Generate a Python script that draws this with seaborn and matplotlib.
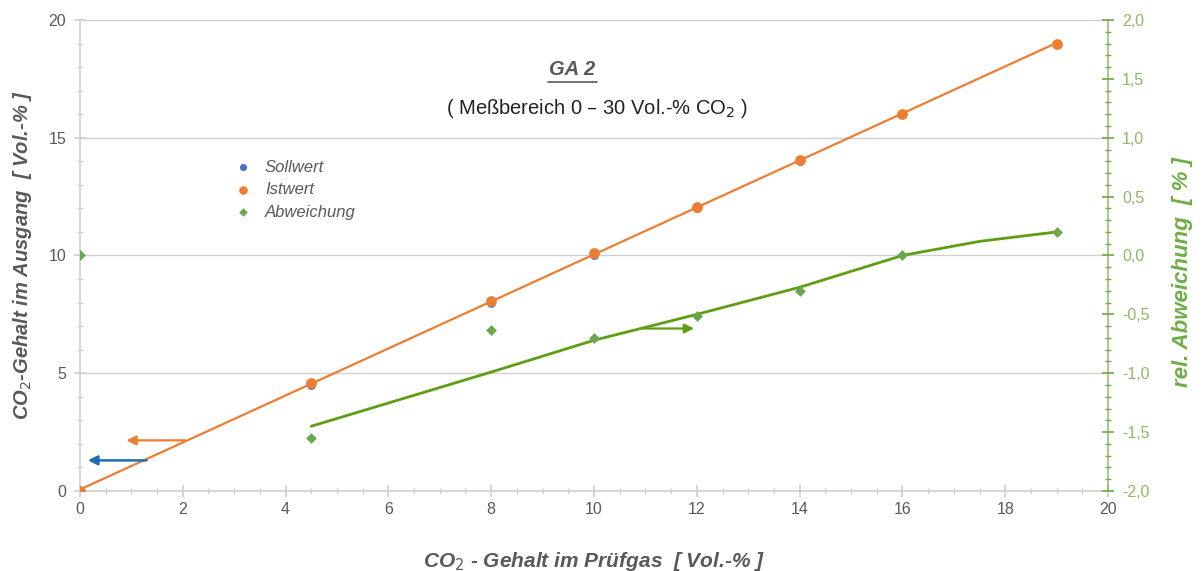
import numpy as np
import pandas as pd
import matplotlib
matplotlib.use("Agg")
import matplotlib.pyplot as plt
from matplotlib.ticker import MultipleLocator, FuncFormatter
import seaborn as sns

# Measured data: reference gas concentration vs. analyser reading
sollwert = [0, 4.5, 8, 10, 12, 14, 16, 19]
istwert = [0, 4.6, 8.05, 10.1, 12.05, 14.05, 16.0, 19.0]
abweichung = [0.0, -1.55, -0.63, -0.70, -0.51, -0.30, 0.0, 0.2]

# Smoothed deviation trend over the measured range
trend_x = [4.5, 8, 10, 12, 14, 16, 17.5, 19]
trend_abw = [-1.45, -0.99, -0.72, -0.50, -0.27, 0.0, 0.12, 0.2]

x_ticks = [0, 2, 4, 6, 8, 10, 12, 14, 16, 18, 20]
y_ticks = [0, 5, 10, 15, 20]
y2_ticks = [-2.0, -1.5, -1.0, -0.5, 0.0, 0.5, 1.0, 1.5, 2.0]

BLUE = "#4472C4"
ORANGE = "#ED7D31"
GREEN = "#70AD47"
GREEN_LINE = "#5E9E12"
GREY = "#595959"
AXIS_GREY = "#D0D0D0"

df = pd.DataFrame({"soll": sollwert, "ist": istwert, "abw": abweichung})
trend = pd.DataFrame({"x": trend_x, "abw": trend_abw})

sns.set_theme(style="white")
plt.rcParams["font.family"] = ["Liberation Sans", "DejaVu Sans"]

fig = plt.figure(figsize=(12.04, 5.71), dpi=100)
ax = fig.add_axes([0.0664, 0.1401, 0.8539, 0.8249])
ax2 = ax.twinx()

# Left axis: set point and actual value with linear trend
sns.regplot(data=df, x="soll", y="ist", order=1, ci=None, scatter=False,
            ax=ax, line_kws=dict(color=ORANGE, lw=1.6, zorder=3))
sns.scatterplot(data=df, x="soll", y="soll", ax=ax, color=BLUE, s=40,
                linewidth=0, zorder=4, label="Sollwert", legend=False)
sns.scatterplot(data=df, x="soll", y="ist", ax=ax, color=ORANGE, s=60,
                linewidth=0, zorder=5, label="Istwert", legend=False)

# Right axis: relative deviation with its trend line
sns.lineplot(data=trend, x="x", y="abw", ax=ax2, color=GREEN_LINE, lw=2.0,
             zorder=3, legend=False)
ax2.lines[0].set_solid_joinstyle("round")
sns.scatterplot(data=df, x="soll", y="abw", ax=ax2, color="#6AA84F", marker="D", s=30,
                linewidth=0, zorder=5, label="Abweichung", legend=False)

ax.set_xlim(0, 20)
ax.set_ylim(0, 20)
ax2.set_ylim(-2.0, 2.0)

ax.set_xticks(x_ticks)
ax.set_yticks(y_ticks)
ax2.set_yticks(y2_ticks)
ax.xaxis.set_minor_locator(MultipleLocator(0.5))
ax.yaxis.set_minor_locator(MultipleLocator(1))
ax2.yaxis.set_minor_locator(MultipleLocator(0.1))
ax2.yaxis.set_major_formatter(FuncFormatter(lambda v, p: f"{v:.1f}".replace(".", ",")))

ax.grid(axis="y", color=AXIS_GREY, lw=1.0)
ax.set_axisbelow(True)

for side in ["top", "right"]:
    ax.spines[side].set_visible(False)
for side in ["top", "left", "bottom"]:
    ax2.spines[side].set_visible(False)
ax.spines["left"].set_color(AXIS_GREY)
ax.spines["bottom"].set_color(AXIS_GREY)
ax2.spines["right"].set_color(GREEN)
ax2.spines["right"].set_alpha(0.7)

ax.tick_params(axis="x", which="major", direction="inout", length=8, color=AXIS_GREY,
               labelsize=11.5, labelcolor=GREY, pad=4, bottom=True)
ax.tick_params(axis="x", which="minor", direction="inout", length=4, color=AXIS_GREY, bottom=True)
ax.tick_params(axis="y", which="major", direction="inout", length=8, color=AXIS_GREY,
               labelsize=11.5, labelcolor=GREY, pad=6, left=True)
ax.tick_params(axis="y", which="minor", direction="inout", length=4, color=AXIS_GREY, left=True)
ax2.tick_params(axis="y", which="major", direction="inout", length=8, color=GREEN,
                labelsize=11.5, labelcolor="#8DB866", pad=6, right=True)
ax2.tick_params(axis="y", which="minor", direction="inout", length=4, color=GREEN, right=True)

ax.set_xlabel("CO$_2$ - Gehalt im Prüfgas  [ Vol.-% ]", fontsize=15, fontweight="bold",
              fontstyle="italic", color=GREY, labelpad=24)
ax.set_ylabel("CO$_2$-Gehalt im Ausgang  [ Vol.-% ]", fontsize=14.5, fontweight="bold",
              fontstyle="italic", color=GREY, labelpad=10)
ax2.set_ylabel("rel. Abweichung  [ % ]", fontsize=16, fontweight="bold",
               fontstyle="italic", color=GREEN)
ax2.yaxis.set_label_coords(1.062, 0.465)

# Title block
ax.text(9.57, 17.9, "GA 2", ha="center", va="center", fontsize=14.5, fontweight="bold",
        fontstyle="italic", color=GREY)
ax.plot([9.1, 10.05], [17.37, 17.37], color=GREY, lw=1.2, clip_on=False)
ax.text(10.06, 16.25, "( Meßbereich 0 – 30 Vol.-% CO$_2$ )", ha="center", va="center",
        fontsize=14.5, color="#222222")

# Arrows pointing to the axis each series belongs to
ax.annotate("", xy=(0.85, 2.15), xytext=(2.1, 2.15),
            arrowprops=dict(arrowstyle="-|>", color=ORANGE, lw=1.6, mutation_scale=14))
ax.annotate("", xy=(0.1, 1.3), xytext=(1.35, 1.3),
            arrowprops=dict(arrowstyle="-|>", color="#1F6FB5", lw=1.8, mutation_scale=14))
ax2.annotate("", xy=(12.0, -0.62), xytext=(10.9, -0.62),
             arrowprops=dict(arrowstyle="-|>", color=GREEN_LINE, lw=1.6, mutation_scale=14))

# Legend
h1, l1 = ax.get_legend_handles_labels()
h2, l2 = ax2.get_legend_handles_labels()
h1 = [h for h, l in zip(h1, l1) if l in ("Sollwert", "Istwert")]
l1 = [l for l in l1 if l in ("Sollwert", "Istwert")]
h2 = [h for h, l in zip(h2, l2) if l == "Abweichung"]
l2 = ["Abweichung"]
leg = ax2.legend(h1 + h2, l1 + l2, loc="upper left", bbox_to_anchor=(0.128, 0.735),
                 frameon=False, handletextpad=0.3, labelspacing=0.45, markerscale=0.8,
                 prop=dict(size=12, style="italic"))
for t in leg.get_texts():
    t.set_color(GREY)

fig.savefig("out.png", dpi=100)
